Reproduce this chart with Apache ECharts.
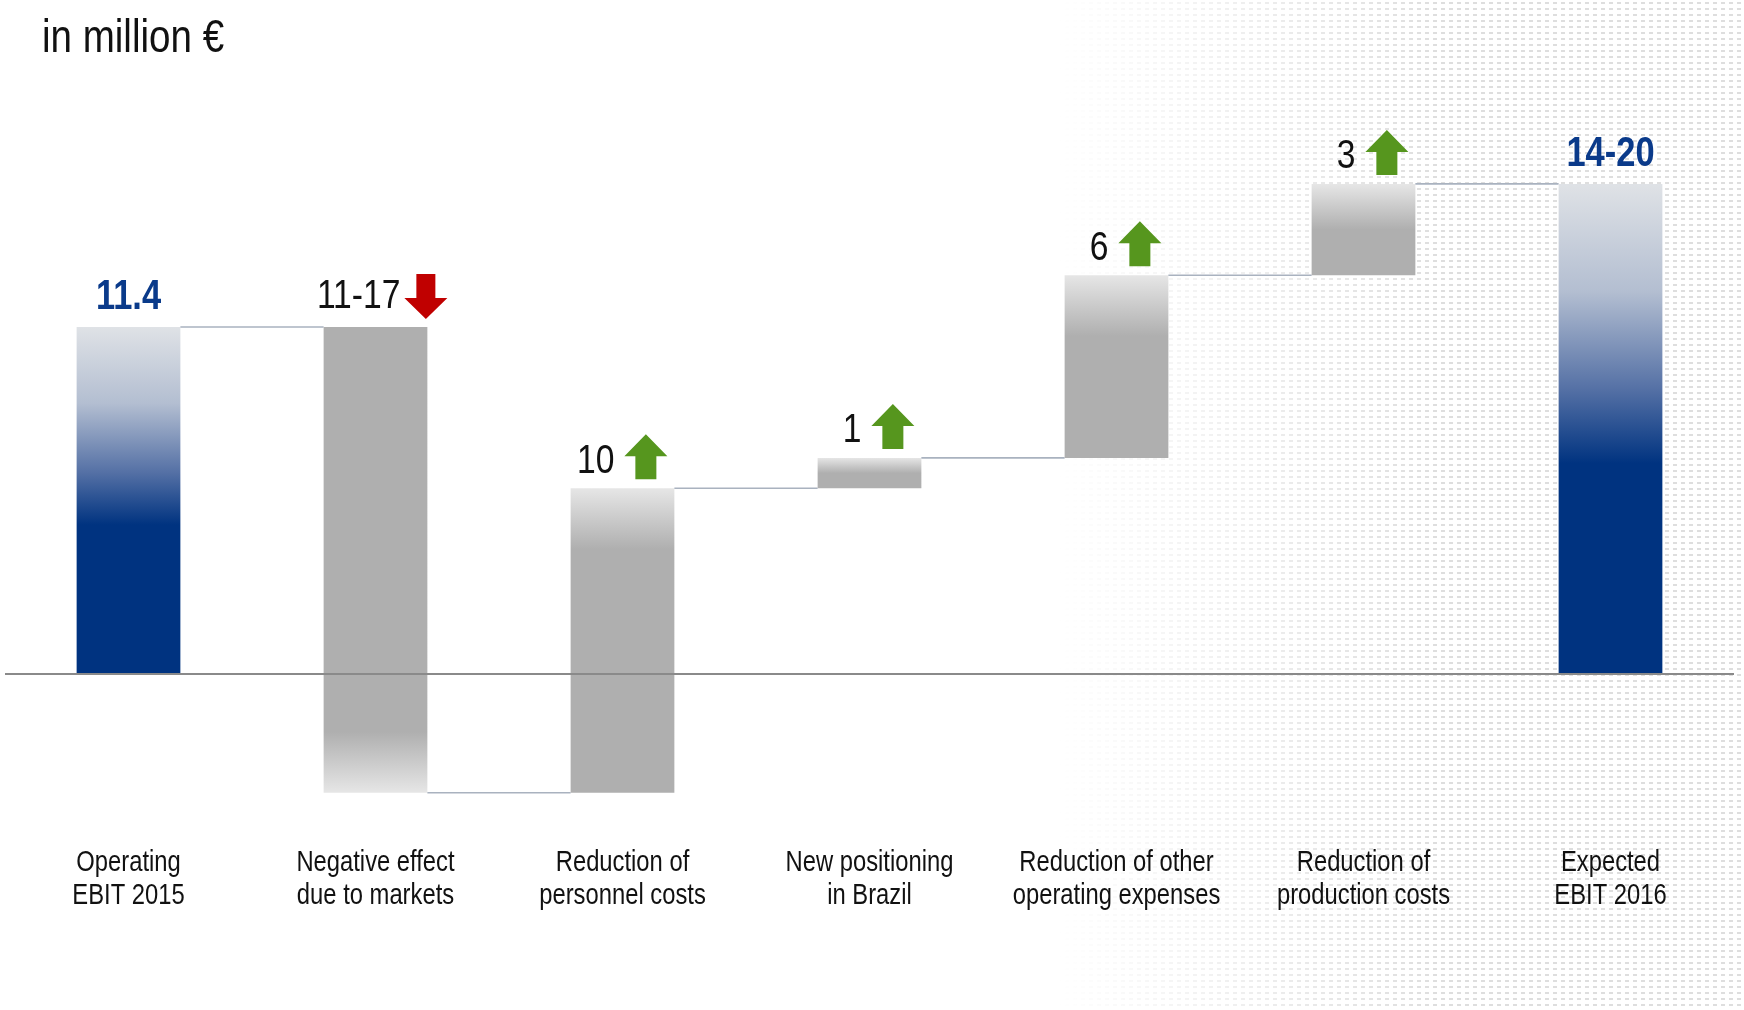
<!DOCTYPE html>
<html>
<head>
<meta charset="utf-8">
<script src="https://cdn.jsdelivr.net/npm/echarts@6/dist/echarts.min.js"></script>
<style>
  html, body { margin: 0; padding: 0; background: #ffffff; }
  #chart { width: 1744px; height: 1010px; }
</style>
</head>
<body>
<div id="chart"></div>
<script>
// EBIT bridge 2015 -> 2016, in million €
const categories = [
  'Operating\nEBIT 2015',
  'Negative effect\ndue to markets',
  'Reduction of\npersonnel costs',
  'New positioning\nin Brazil',
  'Reduction of other\noperating expenses',
  'Reduction of\nproduction costs',
  'Expected\nEBIT 2016'
];
const startValue = 11.4;                 // Operating EBIT 2015
const changes = [-15.3, 10, 1, 6, 3];    // steps of the bridge
const valueLabels = ['11.4', '11-17', '10', '1', '6', '3', '14-20'];

// Liberation Sans squeezed horizontally gives a narrow grotesque look
const FONT = '"Liberation Sans", Arial, sans-serif';
const NARROW = 0.82;
const Y_MIN = -5, Y_MAX = 20;
const BLUE = '#003380';
const LABEL_BLUE = '#0a3a8a';
const GREY = '#afafaf';
const GREY_LIGHT = '#e6e6e6';

// Build floating bars: [index, low, high]
const rows = [];
rows.push({ kind: 'total', low: 0, high: startValue, change: startValue });
let running = startValue;
changes.forEach(function (c) {
  const next = running + c;
  rows.push({ kind: c < 0 ? 'down' : 'up', low: Math.min(running, next), high: Math.max(running, next), change: c });
  running = next;
});
rows.push({ kind: 'total', low: 0, high: running, change: running });
const seriesData = rows.map(function (r, i) { return [i, r.low, r.high]; });

function endLevel(r) { return r.kind === 'down' ? r.low : r.high; }

function barFill(r) {
  if (r.kind === 'total') {
    return { type: 'linear', x: 0, y: 0, x2: 0, y2: 1, colorStops: [
      { offset: 0, color: '#dfe2e6' },
      { offset: 0.22, color: '#b3bed1' },
      { offset: 0.42, color: '#5470a5' },
      { offset: 0.57, color: BLUE },
      { offset: 1, color: BLUE }
    ] };
  }
  const fade = Math.min(0.5, 2 / Math.abs(r.change));
  if (r.kind === 'up') {
    return { type: 'linear', x: 0, y: 0, x2: 0, y2: 1, colorStops: [
      { offset: 0, color: GREY_LIGHT }, { offset: fade, color: GREY }, { offset: 1, color: GREY }
    ] };
  }
  return { type: 'linear', x: 0, y: 0, x2: 0, y2: 1, colorStops: [
    { offset: 0, color: GREY }, { offset: 1 - fade, color: GREY }, { offset: 1, color: GREY_LIGHT }
  ] };
}

function upArrow(al, ab) {
  return [[al + 11, ab], [al + 11, ab - 23], [al, ab - 23], [al + 21.5, ab - 45],
          [al + 43, ab - 23], [al + 32, ab - 23], [al + 32, ab]];
}
function downArrow(al, at) {
  return [[al + 12, at], [al + 31, at], [al + 31, at + 24], [al + 43, at + 24],
          [al + 21.5, at + 45], [al, at + 24], [al + 12, at + 24]];
}

function narrowText(x, y, text, align, font, fill, lineHeight) {
  const style = { text: text, x: 0, y: 0, align: align, font: font, fill: fill,
                  verticalAlign: lineHeight ? 'top' : 'middle' };
  if (lineHeight) style.lineHeight = lineHeight;
  return { type: 'text', x: x, y: y, scaleX: NARROW, style: style };
}

function renderItem(params, api) {
  const i = params.dataIndex;
  const r = rows[i];
  const idx = api.value(0);
  const pLow = api.coord([idx, api.value(1)]);
  const pHigh = api.coord([idx, api.value(2)]);
  const bw = api.size([1, 0])[0] * 0.42;
  const x = pLow[0] - bw / 2;
  const R = x + bw;
  const T = pHigh[1];
  const B = pLow[1];
  const children = [];

  children.push({ type: 'rect', shape: { x: x, y: T, width: bw, height: B - T }, style: { fill: barFill(r) } });

  // connector to the next bar
  if (i < rows.length - 1) {
    const lvl = endLevel(r);
    const pNext = api.coord([idx + 1, lvl]);
    children.push({ type: 'line', shape: { x1: R, y1: pNext[1], x2: pNext[0] - bw / 2, y2: pNext[1] },
      style: { stroke: '#a9b2bf', lineWidth: 1.6 } });
  }

  const text = valueLabels[i];
  if (r.kind === 'total') {
    children.push(narrowText(pLow[0], T - 14 - 0.36 * 42, text, 'center', 'bold 42px ' + FONT, LABEL_BLUE));
  } else if (r.kind === 'up') {
    const al = R - 7 - 43;
    children.push({ type: 'polygon', shape: { points: upArrow(al, T - 9) }, style: { fill: '#56961e' } });
    children.push(narrowText(al - 10, T - 12 - 0.36 * 41, text, 'right', '41px ' + FONT, '#111111'));
  } else {
    const al = R + 20 - 43;
    children.push({ type: 'polygon', shape: { points: downArrow(al, T - 53) }, style: { fill: '#c00000' } });
    children.push(narrowText(al - 4, T - 16 - 0.36 * 41, text, 'right', '41px ' + FONT, '#111111'));
  }

  // category name under the plot area
  const pAxis = api.coord([idx, Y_MIN]);
  children.push(narrowText(pAxis[0], pAxis[1] + 20.5, categories[i], 'center', '29px ' + FONT, '#111111', 33));

  return { type: 'group', children: children };
}

// dotted texture tile for the right-hand background
function dotTile() {
  const c = document.createElement('canvas');
  c.width = 8; c.height = 6;
  const g = c.getContext('2d');
  g.fillStyle = '#dedede';
  g.fillRect(1, 2, 4, 2);
  return c;
}

const chart = echarts.init(document.getElementById('chart'), null, { renderer: 'canvas' });
chart.setOption({
  backgroundColor: '#ffffff',
  animation: false,
  graphic: [
    { type: 'rect', z: -10, shape: { x: 1060, y: 0, width: 684, height: 1010 },
      style: { fill: { image: dotTile(), repeat: 'repeat' } }, silent: true },
    { type: 'rect', z: -9, shape: { x: 1060, y: 0, width: 380, height: 1010 },
      style: { fill: { type: 'linear', x: 0, y: 0, x2: 1, y2: 0, colorStops: [
        { offset: 0, color: 'rgba(255,255,255,1)' }, { offset: 1, color: 'rgba(255,255,255,0)' }] } }, silent: true },
    { type: 'text', x: 42, y: 39, scaleX: NARROW, z: 10,
      style: { text: 'in million €', x: 0, y: 0, verticalAlign: 'middle', font: '47px ' + FONT, fill: '#111111' } }
  ],
  grid: { left: 5, right: 10, top: 65.2, bottom: 183.8, containLabel: false },
  xAxis: {
    type: 'category',
    data: categories,
    boundaryGap: true,
    axisLine: { show: false, onZero: false },
    axisTick: { show: false },
    axisLabel: { show: false },
    splitLine: { show: false }
  },
  yAxis: {
    type: 'value', min: Y_MIN, max: Y_MAX, show: false,
    splitLine: { show: false }
  },
  series: [{
    type: 'custom',
    renderItem: renderItem,
    data: seriesData,
    encode: { x: 0, y: [1, 2] },
    clip: false,
    silent: true,
    markLine: {
      silent: true, symbol: 'none', z: 5,
      label: { show: false },
      lineStyle: { color: '#8a8a8a', width: 2, type: 'solid' },
      data: [{ yAxis: 0 }]
    }
  }]
});
</script>
</body>
</html>
